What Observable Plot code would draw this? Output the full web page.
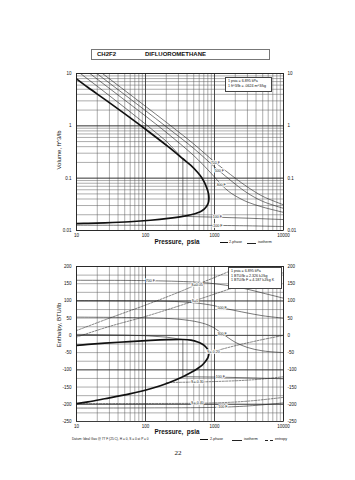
<!DOCTYPE html>
<html><head><meta charset="utf-8">
<script src="https://cdn.jsdelivr.net/npm/d3@7"></script>
<script src="https://cdn.jsdelivr.net/npm/@observablehq/plot@0.6"></script>
<style>
body{margin:0;background:#fff;width:355px;height:480px;position:relative;overflow:hidden;font-family:"Liberation Sans",Arial,sans-serif;color:#111;}
.abs{position:absolute;white-space:nowrap;}
.box{position:absolute;background:#fff;border:0.8px solid #444;font-size:3.6px;line-height:4.6px;padding:1px 2px;box-sizing:border-box;z-index:5;}
.lg{position:absolute;font-size:3.6px;white-space:nowrap;}
.sw{position:absolute;height:0;}
</style></head><body>

<div class="abs" style="left:91px;top:49px;width:179px;height:11px;border:1px solid #777;box-sizing:border-box;font-weight:bold;font-size:6px;line-height:9px;">
  <span style="position:absolute;left:5px;">CH2F2</span>
  <span style="position:absolute;left:53px;">DIFLUOROMETHANE</span>
</div>

<div id="top" class="abs" style="left:0;top:0;"></div>
<div id="bot" class="abs" style="left:0;top:250px;"></div>

<div class="abs" style="left:59px;top:150px;transform:translate(-50%,-50%) rotate(-90deg);font-size:6px;">Volume, ft^3/lb</div>
<div class="abs" style="left:59px;top:325px;transform:translate(-50%,-50%) rotate(-90deg);font-size:6px;">Enthalpy, BTU/lb</div>

<div class="abs" style="left:177px;top:241px;transform:translate(-50%,-50%);font-size:6.3px;font-weight:bold;">Pressure,&nbsp; psia</div>
<div class="abs" style="left:177px;top:431px;transform:translate(-50%,-50%);font-size:6.3px;font-weight:bold;">Pressure,&nbsp; psia</div>

<div class="box" style="left:225px;top:77px;width:47px;height:15px;">1 psia = 6.895 kPa<br>1 ft^3/lb = .0624 m^3/kg</div>
<div class="box" style="left:228px;top:267px;width:54px;height:22px;">1 psia = 6.895 kPa<br>1 BTU/lb = 2.326 kJ/kg<br>1 BTU/lb F = 4.187 kJ/kg K</div>

<!-- top legend -->
<div class="sw" style="left:220px;top:242px;width:8px;border-top:1.6px solid #111;"></div>
<div class="lg" style="left:229px;top:240px;">2-phase</div>
<div class="sw" style="left:247px;top:242.5px;width:9px;border-top:0.6px solid #222;"></div>
<div class="lg" style="left:258px;top:240px;">isotherm</div>

<!-- bottom legend -->
<div class="sw" style="left:200px;top:439px;width:8px;border-top:1.6px solid #111;"></div>
<div class="lg" style="left:210px;top:437px;">2-phase</div>
<div class="sw" style="left:232px;top:439.5px;width:10px;border-top:0.6px solid #222;"></div>
<div class="lg" style="left:244px;top:437px;">isotherm</div>
<div class="sw" style="left:265px;top:439.5px;width:8px;border-top:0.6px dashed #222;"></div>
<div class="lg" style="left:275px;top:437px;">entropy</div>

<div class="lg" style="left:72px;top:437px;font-size:3.2px;">Datum: Ideal Gas @ 77 F (25 C), H = 0, S = 0 at P = 0</div>
<div class="abs" style="left:178px;top:453px;transform:translate(-50%,-50%);font-size:7px;font-family:'Liberation Serif',serif;">22</div>

<script>
// ---------- tick labels ----------
const xTicks = [10, 100, 1000, 10000];
const vTicks = [0.01, 0.1, 1, 10];
const hTicks = [200, 150, 100, 50, 0, -50, -100, -150, -200, -250];

// ---------- saturation dome (psia, ft^3/lb, BTU/lb) ----------
const satP  = [10, 14.7, 25.7, 58.9, 118, 213, 348, 455, 571, 650, 708, 760, 800, 822, 830];
const satVl = [0.0135, 0.0137, 0.0140, 0.0147, 0.0157, 0.0170, 0.0186, 0.0200, 0.0218, 0.0236, 0.0255, 0.0283, 0.0318, 0.0355, 0.042];
const satVv = [7.9, 5.4, 3.2, 1.45, 0.73, 0.40, 0.235, 0.175, 0.128, 0.103, 0.085, 0.069, 0.057, 0.049, 0.042];
const satHl = [-198, -193, -184, -170, -155, -138, -120, -108, -96, -88, -80, -72, -65, -58, -51];
const satHv = [-29, -26, -22.5, -18, -14.5, -12.5, -12, -14, -19, -24, -29, -35, -41, -46, -51];

// ---------- isotherms, volume chart ----------
const T700_P = [10, 20, 50, 100, 200, 500, 1000, 2000, 3000, 5000, 10000];
const T700_V = [23.9, 11.9, 4.75, 2.36, 1.17, 0.45, 0.205, 0.10, 0.068, 0.045, 0.031];
const T500_P = [10, 20, 50, 100, 200, 500, 1000, 2000, 3000, 5000, 10000];
const T500_V = [19.8, 9.85, 3.93, 1.95, 0.96, 0.37, 0.165, 0.077, 0.052, 0.036, 0.0265];
const T300_P = [10, 20, 50, 100, 200, 500, 800, 1000, 1300, 1600, 2000, 3000, 5000, 10000];
const T300_V = [15.6, 7.8, 3.1, 1.54, 0.75, 0.27, 0.145, 0.105, 0.072, 0.056, 0.046, 0.035, 0.028, 0.0222];
const T100_P = [10, 20, 50, 100, 200, 348, 348, 1000, 3000, 10000];
const T100_V = [11.4, 5.7, 2.23, 1.08, 0.51, 0.235, 0.0186, 0.0180, 0.0172, 0.0162];
const Tm100_P = [10, 100, 1000, 3000, 10000];
const Tm100_V = [0.0126, 0.01258, 0.0125, 0.0123, 0.0119];

const vLblText = ["700 F", "500 F", "300 F", "100 F", "-100 F"];
const vLblP = [1030, 1180, 1250, 1100, 1100];
const vLblV = [0.199, 0.137, 0.076, 0.018, 0.0125];

// ---------- isotherms, enthalpy chart ----------
const H700_P = [10, 100, 500, 1000, 2000, 3000, 5000, 10000];
const H700_H = [160, 159, 155, 150, 141, 134, 123, 108];
const H500_P = [10, 100, 300, 600, 1000, 1300, 2000, 3000, 5000, 10000];
const H500_H = [101, 100, 98, 93, 86, 80, 72, 65, 57, 50];
const H300_P = [10, 100, 300, 600, 900, 1300, 2000, 3000, 5000, 10000];
const H300_H = [53, 51, 47, 38, 26, 5, -20, -35, -45, -50];
const H100_P = [10, 50, 100, 200, 348, 348, 1000, 3000, 10000];
const H100_H = [3, 1, -1, -5, -12, -120, -121, -123, -126];
const Hm100_P = [10, 100, 1000, 3000, 10000];
const Hm100_H = [-211, -210.5, -209, -205, -196];

// ---------- isentropes, enthalpy chart ----------
const S005_P = [10, 30, 100, 300, 560, 1000, 1600, 3000];
const S005_H = [14, 50, 88, 125, 148, 168, 185, 205];
const S0_P = [10, 30, 100, 300, 560, 1000, 2000, 5000, 10000];
const S0_H = [-5, 26, 55, 85, 103, 120, 140, 165, 182];
const S020_P = [830, 1000, 2000, 5000, 10000];
const S020_H = [-51, -46, -30, -12, 0];
const S030_P = [200, 500, 1000, 3000, 6000, 10000];
const S030_H = [-137, -135.5, -134, -130, -125, -120];
const S040_P = [10, 100, 1000, 3000, 10000];
const S040_H = [-198, -197.8, -196, -191, -180];

const hLblText = ["700 F", "500 F", "300 F", "100 F", "-100 F"];
const hLblP = [118, 1290, 1290, 1220, 1290];
const hLblH = [159, 80, 5, -121.5, -208.5];
const sLblText = ["S=0.05", "S=0", "S=-0.20", "S=-0.30", "S=-0.40"];
const sLblP = [560, 520, 966, 565, 565];
const sLblH = [148, 101, -47, -135, -196.5];

// ---------- helpers ----------
const pts = (P, Y) => P.map((p, i) => ({p, y: Y[i]}));
const dome = (L, V) => [...pts(satP, L), ...pts(satP, V).reverse()];
const labels = (T, P, Y) => T.map((t, i) => ({t, p: P[i], y: Y[i]}));
const logMinor = (lo, hi) => { const r = []; for (let d = lo; d < hi * 0.999; d *= 10) for (let k = 1; k <= 9; k++) r.push(+(k * d).toPrecision(3)); r.push(hi); return r; };
const xGrid = logMinor(10, 10000);
const vGrid = logMinor(0.01, 10);
const hGrid = d3.range(-250, 201, 25);

const gridMinor = {stroke: "#5a5a5a", strokeWidth: 0.5};
const gridMajor = {stroke: "#222", strokeWidth: 0.7};
const iso = {x: "p", y: "y", stroke: "#222", strokeWidth: 0.6, curve: "catmull-rom"};
const ent = {x: "p", y: "y", stroke: "#222", strokeWidth: 0.55, strokeDasharray: "2,1.3", curve: "catmull-rom"};
const lbl = {x: "p", y: "y", text: "t", fontSize: 3.6, fill: "#111", stroke: "white", strokeWidth: 1.6, paintOrder: "stroke"};
const tickStyle = {tickSize: 0, fontSize: 4.5, label: null};

const topPlot = Plot.plot({
  width: 355, height: 250, marginTop: 73, marginBottom: 20, marginLeft: 76, marginRight: 72,
  style: {fontFamily: "Liberation Sans, Arial, sans-serif", background: "transparent"},
  x: {type: "log", domain: [10, 10000], label: null},
  y: {type: "log", domain: [0.01, 10], label: null},
  marks: [
    Plot.ruleX(xGrid, gridMinor),
    Plot.ruleY(vGrid, gridMinor),
    Plot.ruleX(xTicks, gridMajor),
    Plot.ruleY(vTicks, gridMajor),
    Plot.axisX(xTicks, {...tickStyle, tickPadding: 3, tickFormat: d => String(d)}),
    Plot.axisY(vTicks, {...tickStyle, anchor: "left", tickPadding: 5, tickFormat: d => String(d)}),
    Plot.axisY(vTicks, {...tickStyle, anchor: "right", tickPadding: 4, tickFormat: d => String(d)}),
    Plot.line(pts(T700_P, T700_V), {...iso, clip: true}),
    Plot.line(pts(T500_P, T500_V), {...iso, clip: true}),
    Plot.line(pts(T300_P, T300_V), {...iso, clip: true}),
    Plot.line(pts(T100_P, T100_V), {...iso, curve: "linear", clip: true}),
    Plot.line(pts(Tm100_P, Tm100_V), {...iso, clip: true}),
    Plot.line(dome(satVl, satVv), {x: "p", y: "y", stroke: "#111", strokeWidth: 1.7, curve: "catmull-rom", clip: true}),
    Plot.text(labels(vLblText, vLblP, vLblV), lbl),
    Plot.frame({stroke: "#222", strokeWidth: 0.8})
  ]
});
document.getElementById("top").appendChild(topPlot);

const botPlot = Plot.plot({
  width: 355, height: 190, marginTop: 16, marginBottom: 19, marginLeft: 76, marginRight: 72,
  style: {fontFamily: "Liberation Sans, Arial, sans-serif", background: "transparent"},
  x: {type: "log", domain: [10, 10000], label: null},
  y: {domain: [-250, 200], label: null},
  marks: [
    Plot.ruleX(xGrid, gridMinor),
    Plot.ruleY(hGrid, gridMinor),
    Plot.ruleX(xTicks, gridMajor),
    Plot.ruleY(hTicks.filter(h => h % 100 === 0), gridMajor),
    Plot.axisX(xTicks, {...tickStyle, tickPadding: 3, tickFormat: d => String(d)}),
    Plot.axisY(hTicks, {...tickStyle, anchor: "left", tickPadding: 5, tickFormat: d => String(d)}),
    Plot.axisY(hTicks, {...tickStyle, anchor: "right", tickPadding: 4, tickFormat: d => String(d)}),
    Plot.line(pts(S005_P, S005_H), {...ent, clip: true}),
    Plot.line(pts(S0_P, S0_H), {...ent, clip: true}),
    Plot.line(pts(S020_P, S020_H), {...ent, clip: true}),
    Plot.line(pts(S030_P, S030_H), {...ent, clip: true}),
    Plot.line(pts(S040_P, S040_H), {...ent, clip: true}),
    Plot.line(pts(H700_P, H700_H), {...iso, clip: true}),
    Plot.line(pts(H500_P, H500_H), {...iso, clip: true}),
    Plot.line(pts(H300_P, H300_H), {...iso, clip: true}),
    Plot.line(pts(H100_P, H100_H), {...iso, curve: "linear", clip: true}),
    Plot.line(pts(Hm100_P, Hm100_H), {...iso, clip: true}),
    Plot.line(dome(satHl, satHv), {x: "p", y: "y", stroke: "#111", strokeWidth: 1.7, curve: "catmull-rom", clip: true}),
    Plot.text(labels(hLblText, hLblP, hLblH), lbl),
    Plot.text(labels(sLblText, sLblP, sLblH), lbl),
    Plot.frame({stroke: "#222", strokeWidth: 0.8})
  ]
});
document.getElementById("bot").appendChild(botPlot);
</script>
</body></html>
